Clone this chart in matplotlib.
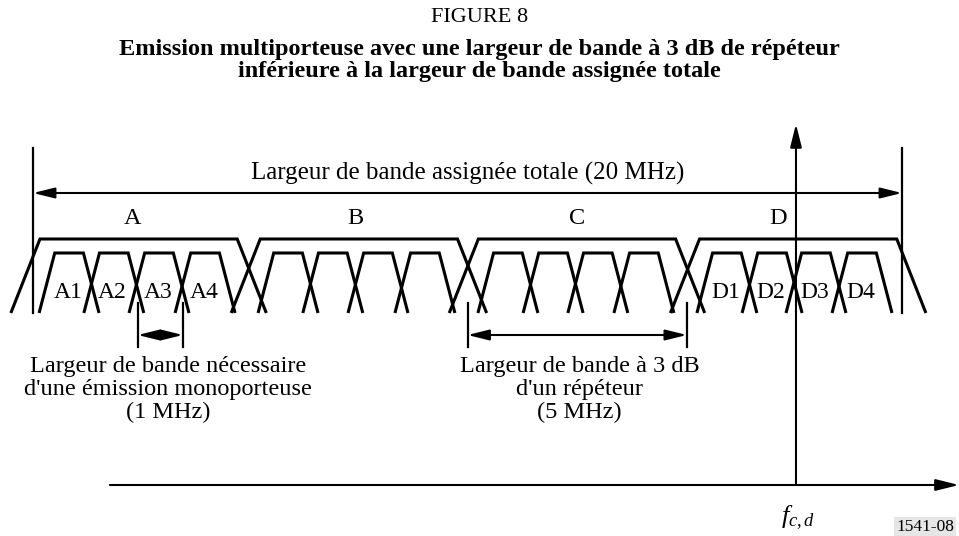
import matplotlib
matplotlib.use('Agg')
import matplotlib.pyplot as plt

plt.rcParams['font.family'] = ['Liberation Serif', 'DejaVu Serif']
plt.rcParams['mathtext.fontset'] = 'custom'
plt.rcParams['mathtext.rm'] = 'Liberation Serif'
plt.rcParams['mathtext.it'] = 'Liberation Serif:italic'

# ---------------- data (frequency in MHz as drawn) ----------------
transponder_labels = ['A', 'B', 'C', 'D']
transponder_centres = [2.43, 7.50, 12.52, 17.61]
transponder_label_x = [2.28, 7.41, 12.52, 17.15]
transponder_top_half = 2.27
transponder_base_half = 2.94

carrier_centres = [0.83, 1.86, 2.90, 3.96,
                   5.87, 6.90, 7.94, 9.02,
                   10.93, 11.97, 13.00, 14.06,
                   15.97, 17.01, 18.02, 19.08]
carrier_labels = ['A1', 'A2', 'A3', 'A4', '', '', '', '',
                  '', '', '', '', 'D1', 'D2', 'D3', 'D4']
carrier_top_half = 0.33
carrier_base_half = 0.69

total_band = [0.0, 20.0]
necessary_band = [2.41, 3.45]
transponder_3db_band = [10.00, 15.05]
fc_d = 17.56
axis_start = 1.77
axis_end = 21.31

title_lines = ['Emission multiporteuse avec une largeur de bande à 3 dB de répéteur',
               'inférieure à la largeur de bande assignée totale']

# vertical levels (drawing units, downwards)
y_base = 313
y_transp_top = 239
y_carrier_top = 253
y_total_arrow = 193
y_edge_top = 148
y_dim_arrow = 335
y_dim_top = 303
y_dim_bottom = 347
y_axis = 485
y_axis_tip = 124

X0, S = 33.0, 43.45   # pixel position of 0 MHz, pixels per MHz

fig = plt.figure(figsize=(9.59, 5.36), dpi=100)
ax = fig.add_axes([0, 0, 1, 1])
ax.set_xlim(-X0 / S, (959 - X0) / S)
ax.set_ylim(536, 0)
ax.axis('off')

LW = 2.2
FS = 17.5

def trapezoid(c, top_half, base_half, ytop):
    xs = [c - base_half, c - top_half, c + top_half, c + base_half]
    ys = [y_base, ytop, ytop, y_base]
    ax.plot(xs, ys, color='black', lw=LW, solid_joinstyle='miter', solid_capstyle='butt')

for c in transponder_centres:
    trapezoid(c, transponder_top_half, transponder_base_half, y_transp_top)
for c in carrier_centres:
    trapezoid(c, carrier_top_half, carrier_base_half, y_carrier_top)

for lab, x in zip(transponder_labels, transponder_label_x):
    ax.text(x, 218, lab, ha='center', va='center', fontsize=FS)
for lab, x in zip(carrier_labels, carrier_centres):
    if lab:
        ax.text(x - 0.03, 293, lab, ha='center', va='center', fontsize=17)

def dim_arrow(x0, x1, y, hl=1.3, hw=0.32):
    ax.annotate('', xy=(x1, y), xytext=(x0, y),
                arrowprops=dict(arrowstyle=f'<|-|>,head_length={hl},head_width={hw}',
                                color='black', lw=1.5, shrinkA=0, shrinkB=0,
                                mutation_scale=10))

# total assigned bandwidth
for x in total_band:
    ax.plot([x, x], [y_edge_top, y_base], color='black', lw=1.6)
dim_arrow(total_band[0], total_band[1], y_total_arrow)
ax.text(10.0, 173, 'Largeur de bande assignée totale (20 MHz)',
        ha='center', va='center', fontsize=18)

# necessary bandwidth of one carrier
for x in necessary_band:
    ax.plot([x, x], [y_dim_top, y_dim_bottom], color='black', lw=1.6)
dim_arrow(necessary_band[0], necessary_band[1], y_dim_arrow)
ax.text(3.11, 390, "Largeur de bande nécessaire\nd'une émission monoporteuse\n(1 MHz)",
        ha='center', va='center', fontsize=FS, linespacing=1.12)

# 3 dB transponder bandwidth
for x in transponder_3db_band:
    ax.plot([x, x], [y_dim_top, y_dim_bottom], color='black', lw=1.6)
dim_arrow(transponder_3db_band[0], transponder_3db_band[1], y_dim_arrow)
ax.text(12.58, 390, "Largeur de bande à 3 dB\nd'un répéteur\n(5 MHz)",
        ha='center', va='center', fontsize=FS, linespacing=1.12)

# axes
ax.annotate('', xy=(axis_end, y_axis), xytext=(axis_start, y_axis),
            arrowprops=dict(arrowstyle='-|>,head_length=1.4,head_width=0.35',
                            color='black', lw=1.5, shrinkA=0, shrinkB=0, mutation_scale=10))
ax.annotate('', xy=(fc_d, y_axis_tip), xytext=(fc_d, y_axis),
            arrowprops=dict(arrowstyle='-|>,head_length=1.4,head_width=0.35',
                            color='black', lw=1.5, shrinkA=0, shrinkB=0, mutation_scale=10))
ax.text(fc_d + 0.05, 518, r'$f_{c,d}$', ha='center', va='center', fontsize=19)

# titles
fig.text(0.5, 1 - 17 / 536, 'FIGURE 8', ha='center', va='center', fontsize=16)
for line, ypx in zip(title_lines, [50, 72]):
    fig.text(0.5, 1 - ypx / 536, line, ha='center', va='center',
             fontsize=17.5, fontweight='bold')

fig.text(1 - 34 / 959, 1 - 527 / 536, '1541-08', ha='center', va='center', fontsize=12.5,
         bbox=dict(boxstyle='square,pad=0.1', facecolor='#e6e6e6', edgecolor='none'))

fig.savefig('out.png', dpi=100)
